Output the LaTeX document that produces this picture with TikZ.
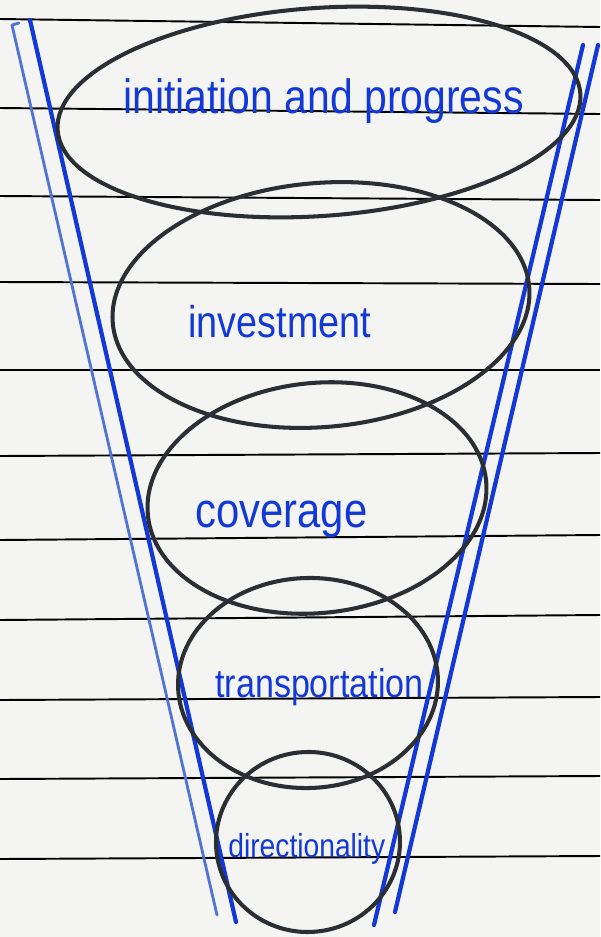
\documentclass[tikz,border=0pt]{standalone}
\usepackage{fontspec}
\usepackage{tikz}
\usetikzlibrary{calc}
\newfontfamily\handfont[FakeStretch=0.85]{Liberation Sans}
\definecolor{paper}{HTML}{F4F4F2}
\definecolor{inkblue}{HTML}{1238D8}
\definecolor{paleblue}{HTML}{4F74D6}
\definecolor{pencil}{HTML}{2B2F33}
\tikzstyle{rule} = [black, line width=1.1pt]
\tikzstyle{funnel} = [inkblue, line width=2.4pt, line cap=round]
\tikzstyle{funnelpale} = [paleblue, line width=1.6pt, line cap=round, line join=round]
\tikzstyle{ring} = [pencil, line width=2.3pt]
\tikzstyle{stage} = [inkblue, anchor=base west, inner sep=0pt]

\begin{document}
\begin{tikzpicture}[x=0.02cm, y=-0.02cm]
  \fill[paper] (0,0) rectangle (600,937);
  \useasboundingbox (0,0) rectangle (600,937);

  \foreach \yl/\yr in {19/27, 108/114, 196/200, 282/284, 370/370, 456/453,
                       540/535, 620/615, 700/697, 779/776, 859/856}
    \draw[rule] (0,\yl) -- (600,\yr);

  \coordinate (lotop) at (12,25);   \coordinate (lobot) at (217,915);
  \coordinate (litop) at (30,20);   \coordinate (libot) at (236,922);
  \coordinate (ritop) at (583,45);  \coordinate (ribot) at (374,925);
  \coordinate (rotop) at (598,45);  \coordinate (robot) at (395,912);

  \draw[funnelpale] ($(lotop)+(7,-2)$) -- (lotop) -- (lobot);
  \draw[funnel] (litop) -- (libot);
  \draw[funnel] (ritop) -- (ribot);
  \draw[funnel] (rotop) -- (robot);

  \coordinate (e1) at (319,112);
  \coordinate (e2) at (321,305);
  \coordinate (e3) at (317,498);
  \coordinate (e4) at (308,683);
  \coordinate (e5) at (308,842);
  \draw[ring, rotate around={4:(e1)}] (e1) ellipse [x radius=262, y radius=104];
  \draw[ring, rotate around={5:(e2)}] (e2) ellipse [x radius=209, y radius=122];
  \draw[ring, rotate around={6:(e3)}] (e3) ellipse [x radius=170, y radius=115];
  \draw[ring, rotate around={2:(e4)}] (e4) ellipse [x radius=130, y radius=105];
  \draw[ring, rotate around={5:(e5)}] (e5) ellipse [x radius=92, y radius=90];

  \node[stage, font=\handfont\fontsize{27.4}{30}\selectfont] (initiation) at (123,113) {initiation and progress};
  \node[stage, font=\handfont\fontsize{25.3}{28}\selectfont] (investment) at (188,337) {investment};
  \node[stage, font=\handfont\fontsize{28}{30}\selectfont] (coverage) at (195,527) {coverage};
  \node[stage, font=\handfont\fontsize{22.8}{25}\selectfont] (transportation) at (215,697) {transportation};
  \node[stage, font=\handfont\fontsize{18.9}{21}\selectfont] (directionality) at (228,857) {directionality};
\end{tikzpicture}
\end{document}
